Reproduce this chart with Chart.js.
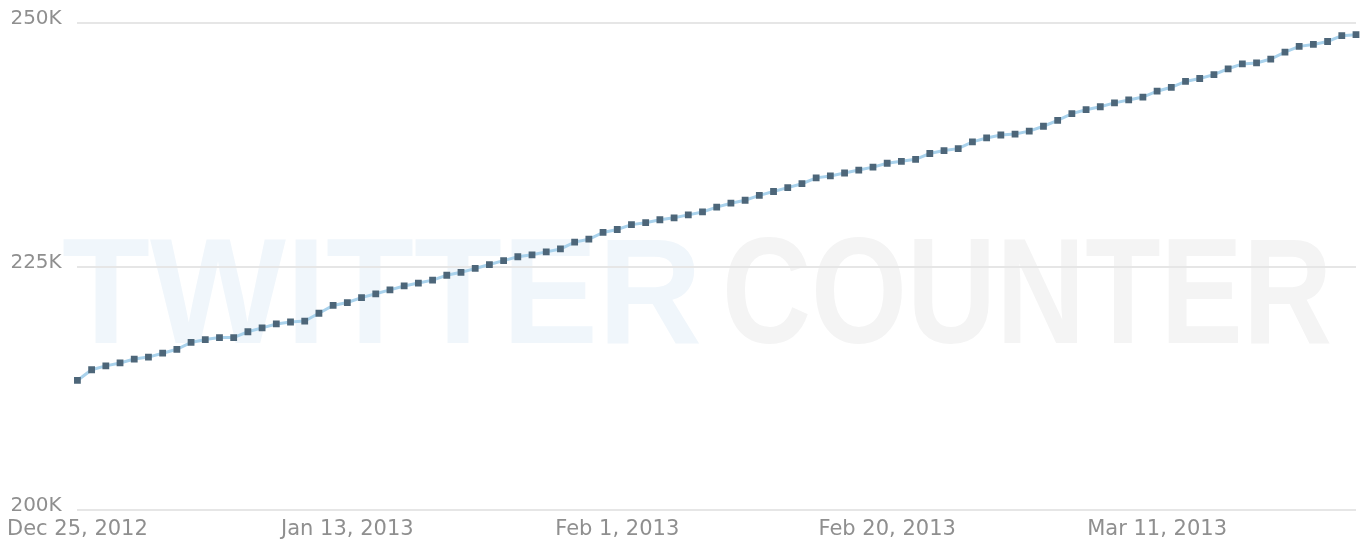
<!DOCTYPE html>
<html>
<head>
<meta charset="utf-8">
<script src="https://cdn.jsdelivr.net/npm/chart.js@4.4.1/dist/chart.umd.min.js"></script>
<style>
  html, body { margin: 0; padding: 0; background: #ffffff; }
  #wrap { width: 1364px; height: 544px; position: relative; }
</style>
</head>
<body>
<div id="wrap"><canvas id="c" width="1364" height="544"></canvas></div>
<script>
// Dates (one per day, Dec 25, 2012 .. Mar 25, 2013)
const startDate = [2012, 11, 25];
const dayCount = 91;
const monthNames = ["Jan","Feb","Mar","Apr","May","Jun","Jul","Aug","Sep","Oct","Nov","Dec"];
const dates = [];
for (let i = 0; i < dayCount; i++) {
  const d = new Date(Date.UTC(startDate[0], startDate[1], startDate[2] + i));
  dates.push(monthNames[d.getUTCMonth()] + " " + d.getUTCDate() + ", " + d.getUTCFullYear());
}
// Labelled x ticks
const xTickLabels = ["Dec 25, 2012", "Jan 13, 2013", "Feb 1, 2013", "Feb 20, 2013", "Mar 11, 2013"];
// Followers (thousands)
const followersK = [
  213.3, 214.4, 214.8, 215.1, 215.5, 215.7, 216.1, 216.5, 217.2, 217.5,
  217.7, 217.7, 218.3, 218.7, 219.1, 219.3, 219.4, 220.2, 221.0, 221.3,
  221.8, 222.2, 222.6, 223.0, 223.3, 223.6, 224.1, 224.4, 224.8, 225.2,
  225.6, 226.0, 226.2, 226.5, 226.8, 227.5, 227.8, 228.5, 228.8, 229.3,
  229.5, 229.8, 230.0, 230.3, 230.6, 231.1, 231.5, 231.8, 232.3, 232.7,
  233.1, 233.5, 234.1, 234.3, 234.6, 234.9, 235.2, 235.6, 235.8, 236.0,
  236.6, 236.9, 237.1, 237.8, 238.2, 238.5, 238.6, 238.9, 239.4, 240.0,
  240.7, 241.1, 241.4, 241.8, 242.1, 242.4, 243.0, 243.4, 244.0, 244.3,
  244.7, 245.3, 245.8, 245.9, 246.3, 247.0, 247.6, 247.8, 248.1, 248.7,
  248.8
];
const followers = followersK.map(v => Math.round(v * 1000));
// Y ticks
const yTicks = [200000, 225000, 250000];
const yTickLabels = ["200K", "225K", "250K"];
const watermarkWords = ["TWITTER", "COUNTER"];

const bgPlugin = {
  id: 'bg',
  beforeDraw(chart) {
    const ctx = chart.ctx;
    ctx.save();
    ctx.fillStyle = '#ffffff';
    ctx.fillRect(0, 0, chart.width, chart.height);
    ctx.textBaseline = 'alphabetic';
    ctx.font = 'bold 150px "Liberation Sans", Arial, sans-serif';
    ctx.fillStyle = '#f0f6fb';
    ctx.fillText(watermarkWords[0], 62, 343, 640);
    ctx.fillStyle = '#f4f4f4';
    ctx.fillText(watermarkWords[1], 722, 343, 610);
    ctx.restore();
  }
};

new Chart(document.getElementById('c'), {
  type: 'line',
  data: {
    labels: dates,
    datasets: [{
      data: followers,
      borderColor: '#a9d2ec',
      borderWidth: 3,
      pointStyle: 'rect',
      pointRadius: 4.8,
      pointBackgroundColor: '#4d6679',
      pointBorderColor: '#4d6679',
      pointBorderWidth: 0,
      tension: 0,
      fill: false
    }]
  },
  options: {
    responsive: false,
    animation: false,
    events: [],
    layout: { padding: { left: 10, right: 8, top: 23, bottom: 2 } },
    plugins: { legend: { display: false }, tooltip: { enabled: false } },
    scales: {
      x: {
        type: 'category',
        offset: false,
        grid: { display: false, drawTicks: false },
        border: { display: false },
        afterFit(scale) { scale.height = 32; },
        ticks: {
          autoSkip: false,
          maxRotation: 0,
          padding: 7,
          color: '#8f8f8f',
          font: { family: '"DejaVu Sans", sans-serif', size: 21 },
          callback: function(v, i) {
            const lbl = this.getLabelForValue(v);
            return xTickLabels.includes(lbl) ? lbl : null;
          }
        }
      },
      y: {
        min: 200000,
        max: 250000,
        afterBuildTicks(scale) { scale.ticks = yTicks.map(v => ({ value: v })); },
        afterFit(scale) { scale.width = 67; },
        grid: { color: '#e6e6e6', lineWidth: 2, drawTicks: false },
        border: { display: false },
        ticks: {
          crossAlign: 'far',
          labelOffset: -4,
          color: '#8f8f8f',
          font: { family: '"DejaVu Sans", sans-serif', size: 20 },
          callback: (v) => yTickLabels[yTicks.indexOf(v)]
        }
      }
    }
  },
  plugins: [bgPlugin]
});
</script>
</body>
</html>
